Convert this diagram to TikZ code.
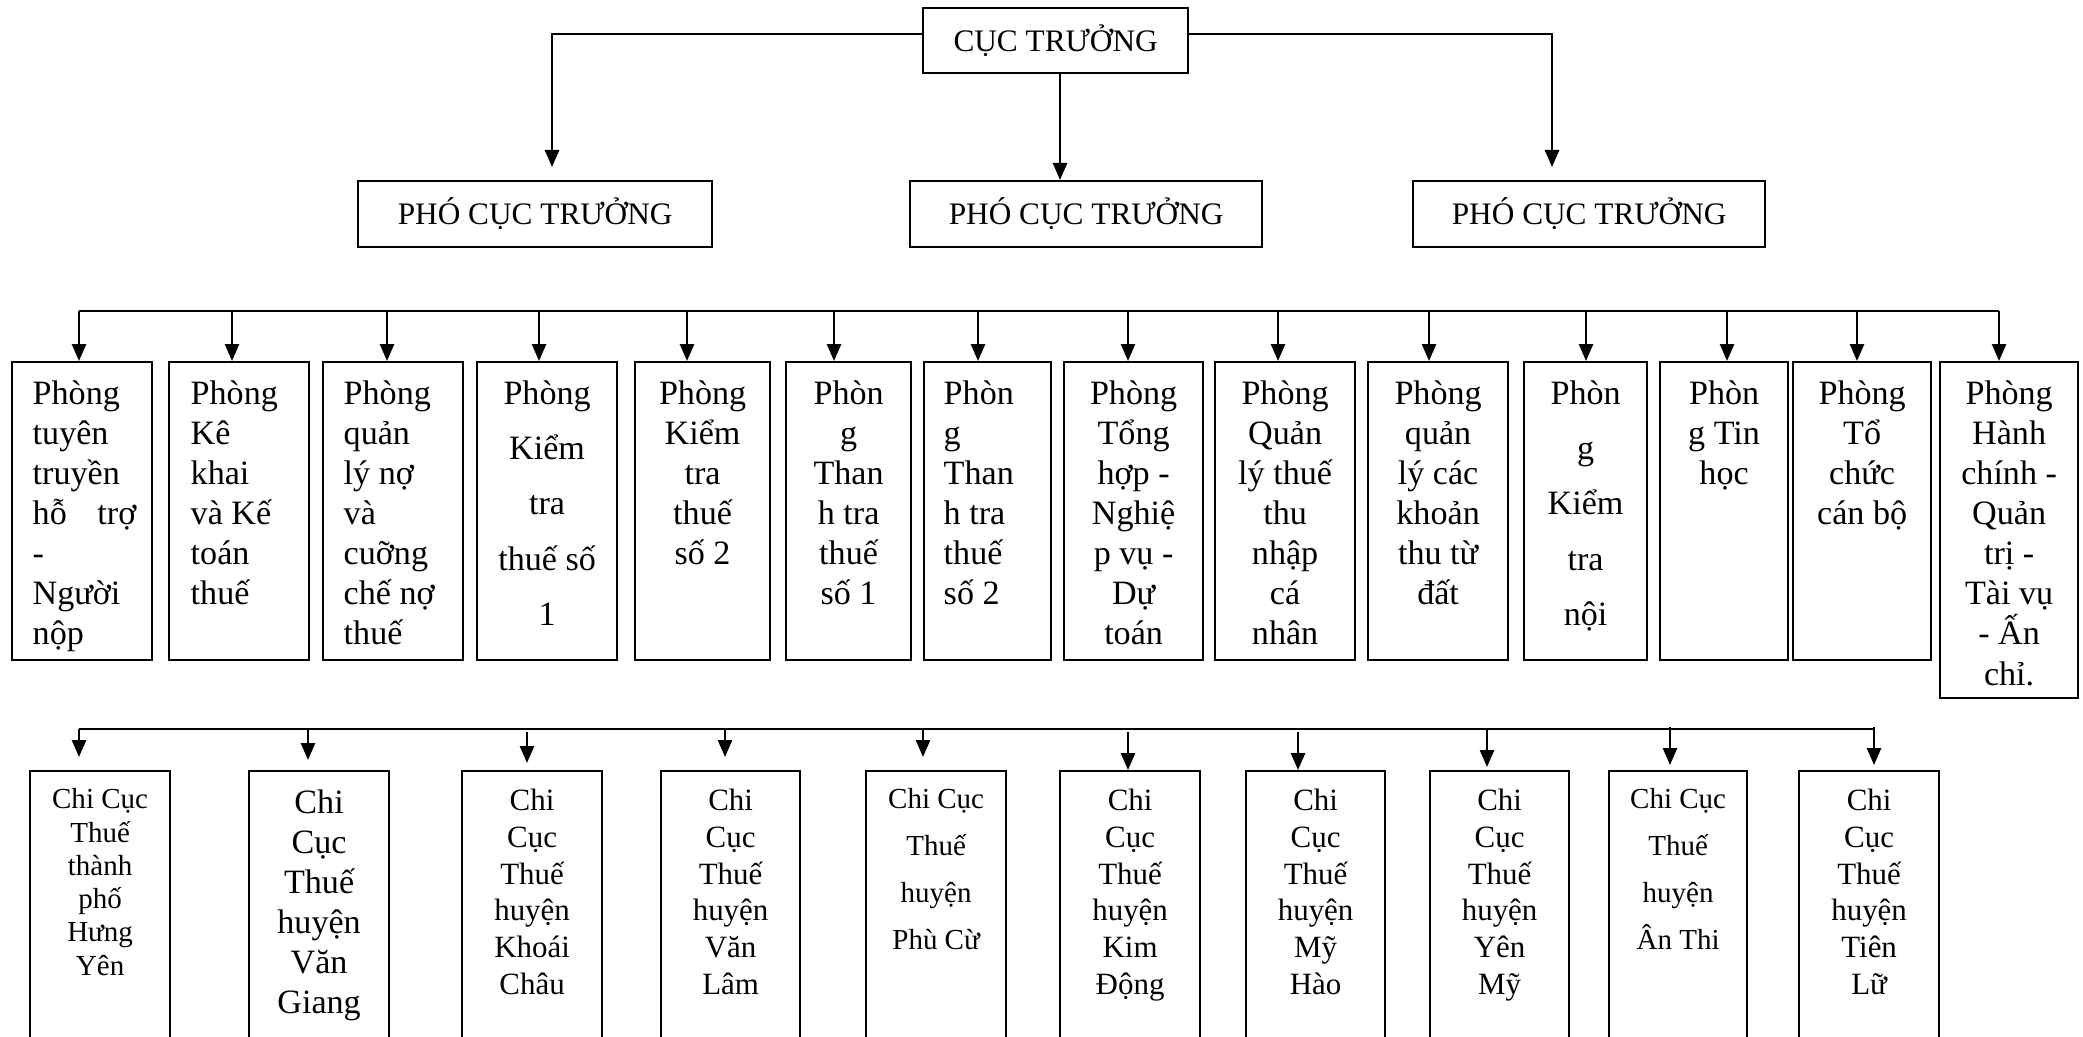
\documentclass[tikz,border=0pt]{standalone}
\usepackage{fontspec}
\setmainfont{Liberation Serif}
\usetikzlibrary{arrows.meta,positioning}

\begin{document}
\begin{tikzpicture}[x=0.01cm,y=-0.01cm,
  box/.style={draw,rectangle,line width=0.6pt,inner sep=0pt,anchor=north west},
  phongbox/.style={box,minimum height=2.98cm},
  chicucbox/.style={box,minimum height=3.2cm},
  lbl/.style={inner sep=0pt,anchor=north,align=center},
  lbll/.style={inner sep=0pt,anchor=north west,align=left},
  conn/.style={line width=0.75pt},
  arr/.style={conn,-{Triangle[length=0.17cm,width=0.14cm]}},
  fhead/.style={font=\fontsize{8.9}{10.7}\selectfont},
  fphong/.style={font=\fontsize{9.7}{11.4}\selectfont},
  fphongw/.style={font=\fontsize{9.7}{15.7}\selectfont},
  fchi/.style={font=\fontsize{8.8}{10.5}\selectfont},
  fchibig/.style={font=\fontsize{9.7}{11.4}\selectfont},
  fchism/.style={font=\fontsize{8.25}{9.45}\selectfont},
  fchiw/.style={font=\fontsize{8.25}{13.3}\selectfont}]
  \useasboundingbox (0,0) rectangle (2083,1036);
  \clip (0,0) rectangle (2083,1036);

  % lanh dao
  \path (922,7) node [box,fhead,minimum width=2.65cm,minimum height=0.65cm] (cuctruong) {CỤC TRƯỞNG}
  (357,180) node [box,fhead,minimum width=3.54cm,minimum height=0.66cm] (pho1) {PHÓ CỤC TRƯỞNG}
  (909,180) node [box,fhead,minimum width=3.52cm,minimum height=0.66cm] (pho2) {PHÓ CỤC TRƯỞNG}
  (1412,180) node [box,fhead,minimum width=3.52cm,minimum height=0.66cm] (pho3) {PHÓ CỤC TRƯỞNG};

  \draw[arr,shorten >=0.13cm] ([yshift=0.065cm]cuctruong.west) -| (552,0 |- pho1.north);
  \draw[arr] (1060,0 |- cuctruong.south) -- (1060,0 |- pho2.north);
  \draw[arr,shorten >=0.13cm] ([yshift=0.065cm]cuctruong.east) -| (1552,0 |- pho3.north);

  % cac phong
  \path (11,361) node [phongbox,minimum width=1.40cm] (phong1) {}
  (168,361) node [phongbox,minimum width=1.40cm] (phong2) {}
  (322,361) node [phongbox,minimum width=1.40cm] (phong3) {}
  (476,361) node [phongbox,minimum width=1.40cm] (phong4) {}
  (634,361) node [phongbox,minimum width=1.35cm] (phong5) {}
  (785,361) node [phongbox,minimum width=1.25cm] (phong6) {}
  (923,361) node [phongbox,minimum width=1.27cm] (phong7) {}
  (1063,361) node [phongbox,minimum width=1.39cm] (phong8) {}
  (1214,361) node [phongbox,minimum width=1.40cm] (phong9) {}
  (1367,361) node [phongbox,minimum width=1.40cm] (phong10) {}
  (1523,361) node [phongbox,minimum width=1.23cm] (phong11) {}
  (1659,361) node [phongbox,minimum width=1.28cm] (phong12) {}
  (1792,361) node [phongbox,minimum width=1.38cm] (phong13) {}
  (1939,361) node [box,minimum width=1.38cm,minimum height=3.36cm] (phong14) {};

  \node[lbll,fphong,below right=0.19cm and 0.21cm of phong1.north west] (phong1txt) {Phòng\\tuyên\\truyền\\hỗ\hspace{0.9em}trợ\\-\\Người\\nộp};
  \node[lbll,fphong,below right=0.19cm and 0.22cm of phong2.north west] (phong2txt) {Phòng\\Kê\\khai\\và Kế\\toán\\thuế};
  \node[lbll,fphong,below right=0.19cm and 0.21cm of phong3.north west] (phong3txt) {Phòng\\quản\\lý nợ\\và\\cuỡng\\chế nợ\\thuế};
  \node[lbl,fphongw,below=0.19cm of phong4.north] (phong4txt) {Phòng\\Kiểm\\tra\\thuế số\\1};
  \node[lbl,fphong,below=0.19cm of phong5.north] (phong5txt) {Phòng\\Kiểm\\tra\\thuế\\số 2};
  \node[lbl,fphong,below=0.19cm of phong6.north] (phong6txt) {Phòn\\g\\Than\\h tra\\thuế\\số 1};
  \node[lbll,fphong,below right=0.19cm and 0.20cm of phong7.north west] (phong7txt) {Phòn\\g\\Than\\h tra\\thuế\\số 2};
  \node[lbl,fphong,below=0.19cm of phong8.north] (phong8txt) {Phòng\\Tổng\\hợp -\\Nghiệ\\p vụ -\\Dự\\toán};
  \node[lbl,fphong,below=0.19cm of phong9.north] (phong9txt) {Phòng\\Quản\\lý thuế\\thu\\nhập\\cá\\nhân};
  \node[lbl,fphong,below=0.19cm of phong10.north] (phong10txt) {Phòng\\quản\\lý các\\khoản\\thu từ\\đất};
  \node[lbl,fphongw,below=0.19cm of phong11.north] (phong11txt) {Phòn\\g\\Kiểm\\tra\\nội};
  \node[lbl,fphong,below=0.19cm of phong12.north] (phong12txt) {Phòn\\g Tin\\học};
  \node[lbl,fphong,below=0.19cm of phong13.north] (phong13txt) {Phòng\\Tổ\\chức\\cán bộ};
  \node[lbl,fphong,below=0.19cm of phong14.north] (phong14txt) {Phòng\\Hành\\chính -\\Quản\\trị -\\Tài vụ\\- Ấn\\chỉ.};

  \coordinate (bus1) at (79,311);
  \coordinate (bus1end) at (1999,311);
  \draw[conn] (bus1) -- (bus1end);
  \foreach \i/\x in {1/79,2/232,3/387,4/539,5/687,6/834,7/978,8/1128,9/1278,10/1429,11/1586,12/1727,13/1857,14/1999}
    \draw[arr] (\x,0 |- bus1) -- (\x,0 |- phong\i.north);

  % chi cuc
  \path (29,770) node [chicucbox,minimum width=1.40cm] (chicuc1) {}
  (248,770) node [chicucbox,minimum width=1.40cm] (chicuc2) {}
  (461,770) node [chicucbox,minimum width=1.40cm] (chicuc3) {}
  (660,770) node [chicucbox,minimum width=1.39cm] (chicuc4) {}
  (865,770) node [chicucbox,minimum width=1.40cm] (chicuc5) {}
  (1059,770) node [chicucbox,minimum width=1.40cm] (chicuc6) {}
  (1245,770) node [chicucbox,minimum width=1.39cm] (chicuc7) {}
  (1429,770) node [chicucbox,minimum width=1.39cm] (chicuc8) {}
  (1608,770) node [chicucbox,minimum width=1.38cm] (chicuc9) {}
  (1798,770) node [chicucbox,minimum width=1.40cm] (chicuc10) {};

  \node[lbl,fchism,below=0.18cm of chicuc1.north] (chicuc1txt) {Chi Cục\\Thuế\\thành\\phố\\Hưng\\Yên};
  \node[lbl,fchibig,below=0.19cm of chicuc2.north] (chicuc2txt) {Chi\\Cục\\Thuế\\huyện\\Văn\\Giang};
  \node[lbl,fchi,below=0.18cm of chicuc3.north] (chicuc3txt) {Chi\\Cục\\Thuế\\huyện\\Khoái\\Châu};
  \node[lbl,fchi,below=0.18cm of chicuc4.north] (chicuc4txt) {Chi\\Cục\\Thuế\\huyện\\Văn\\Lâm};
  \node[lbl,fchiw,below=0.18cm of chicuc5.north] (chicuc5txt) {Chi Cục\\Thuế\\huyện\\Phù Cừ};
  \node[lbl,fchi,below=0.18cm of chicuc6.north] (chicuc6txt) {Chi\\Cục\\Thuế\\huyện\\Kim\\Động};
  \node[lbl,fchi,below=0.18cm of chicuc7.north] (chicuc7txt) {Chi\\Cục\\Thuế\\huyện\\Mỹ\\Hào};
  \node[lbl,fchi,below=0.18cm of chicuc8.north] (chicuc8txt) {Chi\\Cục\\Thuế\\huyện\\Yên\\Mỹ};
  \node[lbl,fchiw,below=0.18cm of chicuc9.north] (chicuc9txt) {Chi Cục\\Thuế\\huyện\\Ân Thi};
  \node[lbl,fchi,below=0.18cm of chicuc10.north] (chicuc10txt) {Chi\\Cục\\Thuế\\huyện\\Tiên\\Lữ};

  \coordinate (bus2) at (79,729);
  \coordinate (bus2end) at (1874,729);
  \draw[conn] (bus2) -- (bus2end);
  \foreach \i/\x/\a/\b in {1/79/0cm/0.13cm,2/308/0cm/0.10cm,3/527/0.03cm/0.07cm,4/725/0cm/0.13cm,5/923/0cm/0.13cm,
    6/1128/0.03cm/0cm,7/1298/0.03cm/0cm,8/1487/0cm/0.03cm,9/1670/-0.02cm/0.05cm,10/1874/-0.02cm/0.05cm}
    \draw[arr,shorten <=\a,shorten >=\b] (\x,0 |- bus2) -- (\x,0 |- chicuc\i.north);
\end{tikzpicture}
\end{document}
